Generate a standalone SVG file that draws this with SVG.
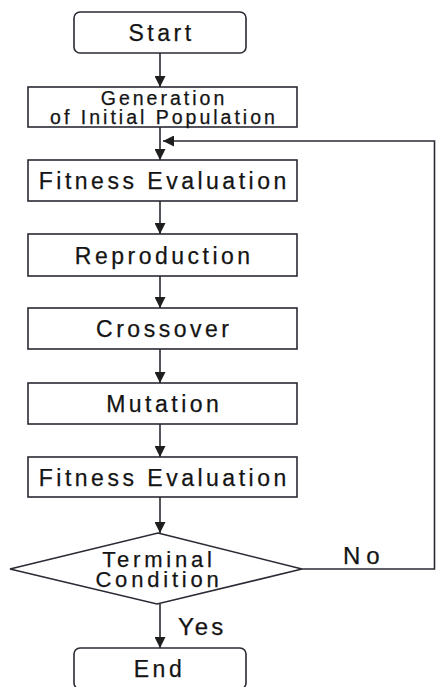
<svg xmlns="http://www.w3.org/2000/svg" width="436" height="687" viewBox="0 0 436 687">
<style>
.box{fill:#fff;stroke:#2a2a35;stroke-width:1.6}
.t{font-family:"Liberation Sans",Arial,sans-serif;font-size:23px;letter-spacing:3.5px;fill:#141414;stroke:#141414;stroke-width:0.25;text-anchor:middle}
.g{font-size:19.5px;letter-spacing:3px}
.d{font-size:22px;letter-spacing:3.8px}
.lbl{font-family:"Liberation Sans",Arial,sans-serif;font-size:24px;fill:#141414;stroke:#141414;stroke-width:0.25}
.c{fill:none;stroke:#2a2a35;stroke-width:1.6}
</style>
<defs>
<marker id="ah" viewBox="0 0 10 10" markerWidth="11" markerHeight="11" refX="10" refY="5" orient="auto" markerUnits="userSpaceOnUse">
<path d="M0,0 L10,5 L0,10 Z" fill="#1e1e1e"/>
</marker>
</defs>
<rect width="436" height="687" fill="#fff"/>
<g id="connectors">
<line class="c" x1="160" y1="53" x2="160" y2="87" marker-end="url(#ah)"/>
<line class="c" x1="160" y1="127" x2="160" y2="160" marker-end="url(#ah)"/>
<line class="c" x1="160" y1="201" x2="160" y2="234" marker-end="url(#ah)"/>
<line class="c" x1="160" y1="276" x2="160" y2="308" marker-end="url(#ah)"/>
<line class="c" x1="160" y1="349" x2="160" y2="383" marker-end="url(#ah)"/>
<line class="c" x1="160" y1="424" x2="160" y2="457" marker-end="url(#ah)"/>
<line class="c" x1="160" y1="497" x2="160" y2="533" marker-end="url(#ah)"/>
<line class="c" x1="160" y1="604" x2="160" y2="648" marker-end="url(#ah)"/>
<polyline class="c" points="302,569 434.5,569 434.5,141 163,141" marker-end="url(#ah)"/>
<text class="lbl" x="343" y="564" letter-spacing="6">No</text>
<text class="lbl" x="178" y="635" letter-spacing="3">Yes</text>
</g>
<g id="start">
<rect class="box" x="74" y="12" width="172" height="41" rx="6"/>
<text class="t" x="161.5" y="41">Start</text>
</g>
<g id="generation">
<rect class="box" x="28" y="87" width="269" height="40"/>
<text class="t g" x="164" y="105">Generation</text>
<text class="t g" x="164" y="123.5">of Initial Population</text>
</g>
<g id="fitness1">
<rect class="box" x="28" y="160" width="269" height="41"/>
<text class="t" x="164.25" y="189">Fitness Evaluation</text>
</g>
<g id="reproduction">
<rect class="box" x="28" y="234" width="269" height="42"/>
<text class="t" x="164.25" y="263.5">Reproduction</text>
</g>
<g id="crossover">
<rect class="box" x="28" y="308" width="269" height="41"/>
<text class="t" x="164.25" y="337">Crossover</text>
</g>
<g id="mutation">
<rect class="box" x="28" y="383" width="269" height="41"/>
<text class="t" x="164.25" y="412">Mutation</text>
</g>
<g id="fitness2">
<rect class="box" x="28" y="457" width="269" height="40"/>
<text class="t" x="164.25" y="485.5">Fitness Evaluation</text>
</g>
<g id="terminal">
<polygon class="box" points="158,533 302,569 157,604 10,569"/>
<text class="t d" x="159" y="566.5">Terminal</text>
<text class="t d" x="159" y="586.5">Condition</text>
</g>
<g id="end">
<rect class="box" x="74" y="648" width="172" height="41" rx="6"/>
<text class="t" x="159.5" y="677">End</text>
</g>
</svg>
